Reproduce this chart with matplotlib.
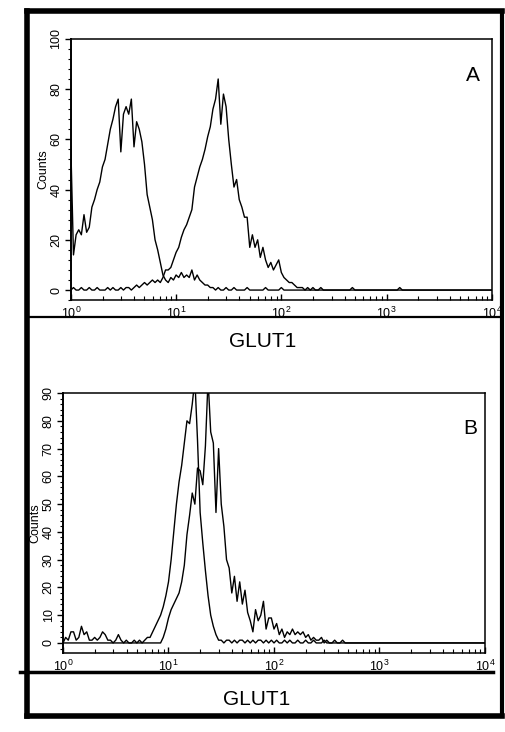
import numpy as np
import matplotlib.pyplot as plt
from matplotlib.lines import Line2D
from matplotlib.ticker import LogLocator, MultipleLocator, NullFormatter

plt.rcParams['font.family'] = ['Liberation Sans', 'DejaVu Sans']
plt.rcParams['mathtext.fontset'] = 'custom'
plt.rcParams['mathtext.rm'] = 'Liberation Sans'

# histogram channels: 161 log-spaced channels from 10^0 to 10^4
channels = np.logspace(0, 4, 161)

# panel A counts (10 channels per row)
a_control = [
    57, 14, 22, 24, 22, 30, 23, 25, 33, 36,
    40, 43, 49, 52, 58, 64, 68, 73, 76, 55,
    70, 73, 70, 76, 57, 67, 64, 59, 50, 38,
    33, 28, 20, 16, 11, 6, 4, 3, 5, 4,
    6, 5, 7, 5, 6, 5, 8, 4, 6, 4,
    3, 2, 2, 1, 1, 0, 1, 0, 0, 1,
    0, 0, 1, 0, 0, 0, 0, 1, 0, 0,
    0, 0, 0, 0, 1, 0, 0, 0, 0, 0,
    1, 0, 0, 0, 0, 0, 0, 0, 0, 0,
    0, 0, 0, 0, 0, 0, 0, 0, 0, 0,
    0, 0, 0, 0, 0, 0, 0, 0, 0, 0,
    0, 0, 0, 0, 0, 0, 0, 0, 0, 0,
    0, 0, 0, 0, 0, 0, 0, 0, 0, 0,
    0, 0, 0, 0, 0, 0, 0, 0, 0, 0,
    0, 0, 0, 0, 0, 0, 0, 0, 0, 0,
    0, 0, 0, 0, 0, 0, 0, 0, 0, 0,
    0,
]
a_glut1 = [
    0, 1, 0, 0, 1, 0, 0, 1, 0, 0,
    1, 0, 0, 0, 1, 0, 1, 0, 0, 1,
    0, 1, 1, 0, 1, 2, 1, 2, 3, 2,
    3, 4, 3, 4, 3, 5, 8, 8, 9, 12,
    15, 17, 21, 24, 26, 29, 32, 41, 45, 49,
    52, 56, 61, 65, 72, 76, 84, 66, 78, 73,
    60, 50, 41, 44, 36, 33, 29, 29, 17, 22,
    17, 20, 13, 17, 12, 9, 11, 8, 10, 12,
    7, 5, 4, 3, 3, 2, 1, 1, 1, 0,
    1, 0, 1, 0, 0, 1, 0, 0, 0, 0,
    0, 0, 0, 0, 0, 0, 0, 1, 0, 0,
    0, 0, 0, 0, 0, 0, 0, 0, 0, 0,
    0, 0, 0, 0, 0, 1, 0, 0, 0, 0,
    0, 0, 0, 0, 0, 0, 0, 0, 0, 0,
    0, 0, 0, 0, 0, 0, 0, 0, 0, 0,
    0, 0, 0, 0, 0, 0, 0, 0, 0, 0,
    0,
]

# panel B counts
b_control = [
    0, 2, 1, 4, 4, 1, 2, 6, 3, 4,
    1, 1, 2, 1, 2, 4, 3, 1, 1, 0,
    1, 3, 1, 0, 1, 0, 0, 1, 0, 1,
    0, 1, 2, 2, 4, 6, 8, 10, 13, 17,
    22, 30, 40, 50, 58, 64, 72, 80, 79, 86,
    95, 73, 47, 36, 26, 17, 10, 6, 3, 1,
    1, 0, 1, 1, 0, 1, 0, 1, 1, 0,
    1, 0, 1, 0, 1, 1, 0, 1, 0, 1,
    0, 1, 0, 0, 1, 0, 1, 0, 0, 1,
    0, 0, 1, 0, 0, 1, 0, 0, 0, 1,
    0, 0, 0, 0, 0, 0, 0, 0, 0, 0,
    0, 0, 0, 0, 0, 0, 0, 0, 0, 0,
    0, 0, 0, 0, 0, 0, 0, 0, 0, 0,
    0, 0, 0, 0, 0, 0, 0, 0, 0, 0,
    0, 0, 0, 0, 0, 0, 0, 0, 0, 0,
    0, 0, 0, 0, 0, 0, 0, 0, 0, 0,
    0,
]
b_glut1 = [
    0, 0, 0, 0, 0, 0, 0, 0, 0, 0,
    0, 0, 0, 0, 0, 0, 0, 0, 0, 0,
    0, 0, 0, 0, 0, 0, 0, 0, 0, 0,
    0, 0, 0, 0, 0, 0, 0, 0, 2, 5,
    9, 12, 14, 16, 18, 22, 28, 39, 46, 54,
    50, 63, 62, 57, 71, 95, 76, 72, 47, 70,
    50, 42, 30, 27, 18, 24, 15, 22, 14, 19,
    11, 8, 4, 12, 8, 10, 15, 5, 9, 9,
    5, 7, 3, 5, 2, 4, 3, 5, 3, 4,
    3, 4, 2, 3, 1, 2, 1, 1, 2, 0,
    1, 0, 0, 1, 0, 0, 1, 0, 0, 0,
    0, 0, 0, 0, 0, 0, 0, 0, 0, 0,
    0, 0, 0, 0, 0, 0, 0, 0, 0, 0,
    0, 0, 0, 0, 0, 0, 0, 0, 0, 0,
    0, 0, 0, 0, 0, 0, 0, 0, 0, 0,
    0, 0, 0, 0, 0, 0, 0, 0, 0, 0,
    0,
]

fig = plt.figure(figsize=(5.06, 7.32), dpi=100)


def setup_axis(ax, ymax, ystep, yminor):
    ax.set_xscale('log')
    ax.set_xlim(1, 1e4)
    ax.set_ylim(-ymax * 0.04, ymax)
    ax.xaxis.set_major_locator(LogLocator(base=10, numticks=10))
    ax.xaxis.set_minor_locator(LogLocator(base=10, subs=np.arange(2, 10), numticks=20))
    ax.xaxis.set_minor_formatter(NullFormatter())
    ax.yaxis.set_major_locator(MultipleLocator(ystep))
    ax.yaxis.set_minor_locator(MultipleLocator(yminor))
    ax.tick_params(axis='x', which='both', direction='in', labelsize=9, pad=4)
    ax.tick_params(axis='x', which='major', length=4, width=1)
    ax.tick_params(axis='x', which='minor', length=3, width=0.8)
    ax.tick_params(axis='y', which='major', direction='out', length=4, width=1,
                   labelsize=9, labelrotation=90, pad=2)
    ax.tick_params(axis='y', which='minor', direction='out', length=2.5, width=0.8)
    for lbl in ax.get_yticklabels():
        lbl.set_verticalalignment('center')
    for s in ax.spines.values():
        s.set_linewidth(1.1)
    ax.spines['left'].set_linewidth(1.4)
    ax.set_ylabel('Counts', fontsize=9, labelpad=1)


# panel A
ax1 = fig.add_axes([0.140, 0.590, 0.832, 0.357])
ax1.plot(channels, a_control, color='black', lw=1.0)
ax1.plot(channels, a_glut1, color='black', lw=1.0)
setup_axis(ax1, 100, 20, 4)
ax1.text(0.955, 0.86, 'A', transform=ax1.transAxes, fontsize=15,
         ha='center', va='center')

# panel B
ax2 = fig.add_axes([0.1245, 0.108, 0.834, 0.355])
ax2.plot(channels, b_control, color='black', lw=1.0)
ax2.plot(channels, b_glut1, color='black', lw=1.0)
setup_axis(ax2, 90, 10, 2)
ax2.text(0.964, 0.865, 'B', transform=ax2.transAxes, fontsize=15,
         ha='center', va='center')

fig.text(0.520, 0.533, 'GLUT1', fontsize=15, ha='center', va='center')
fig.text(0.508, 0.044, 'GLUT1', fontsize=15, ha='center', va='center')

# outer frame and separators
L, R, T, Bt = 0.053, 0.992, 0.985, 0.022
frame = [
    ([L, L], [Bt, T], 4.0),
    ([L, R], [T, T], 4.0),
    ([R, R], [Bt, T], 3.0),
    ([L, R], [Bt, Bt], 4.0),
    ([L, R], [0.567, 0.567], 1.6),
    ([0.040, 0.975], [0.082, 0.082], 2.5),
]
for xs, ys, lw in frame:
    fig.add_artist(Line2D(xs, ys, color='black', lw=lw, solid_capstyle='projecting',
                          transform=fig.transFigure))

fig.savefig('out.png', dpi=100)
